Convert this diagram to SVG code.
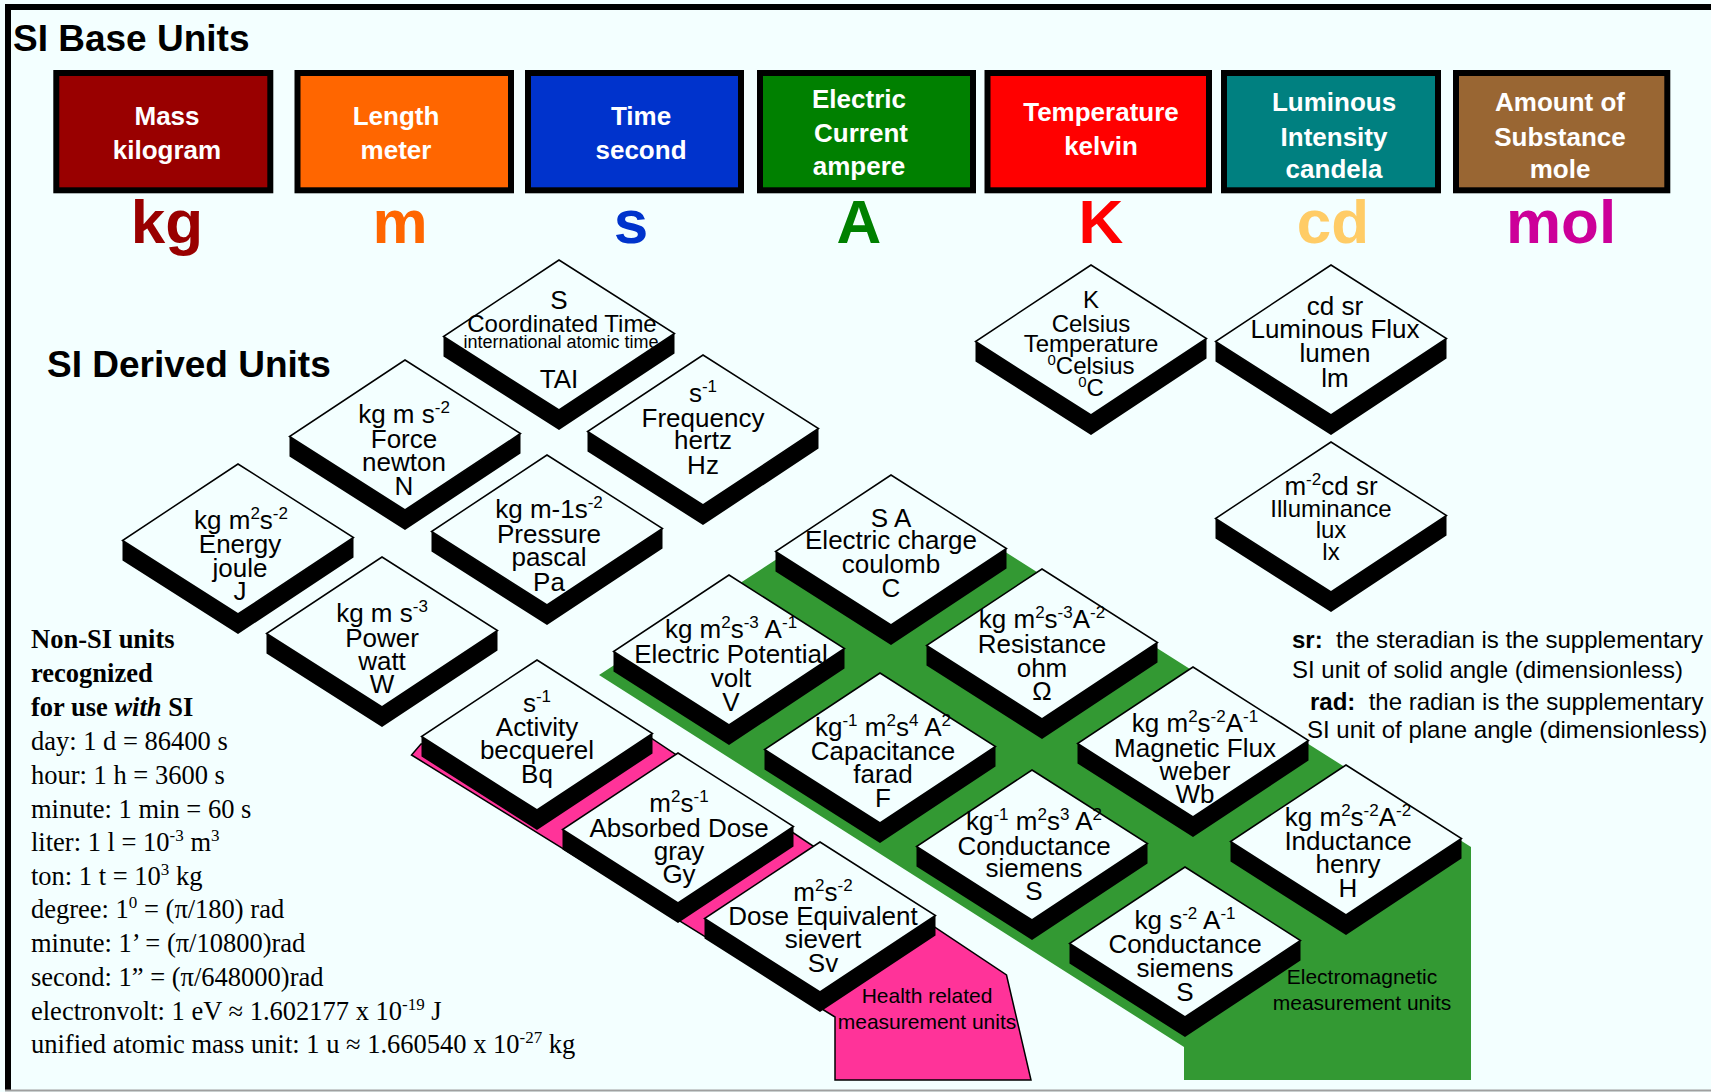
<svg xmlns="http://www.w3.org/2000/svg" xmlns:xlink="http://www.w3.org/1999/xlink" width="1711" height="1092" viewBox="0 0 1711 1092">
<style>
.ttl{font-family:"Liberation Sans",Arial,sans-serif;font-weight:bold;font-size:37px;fill:#000}
.bx{font-family:"Liberation Sans",Arial,sans-serif;font-weight:bold;font-size:26px;fill:#fff;text-anchor:middle}
.sym{font-family:"Liberation Sans",Arial,sans-serif;font-weight:bold;font-size:62px;text-anchor:middle}
.d{font-family:"Liberation Sans",Arial,sans-serif;font-size:26px;fill:#000;text-anchor:middle}
.d24{font-size:24px}
.d18{font-size:18px}
.sp{font-size:17px}
.sp14{font-size:15px}
.ns{font-family:"Liberation Serif","Times New Roman",serif;font-size:26.5px;fill:#000}
.nsb{font-weight:bold}
.nt{font-family:"Liberation Sans",Arial,sans-serif;font-size:24px;fill:#000}
.rg{font-family:"Liberation Sans",Arial,sans-serif;font-size:21px;fill:#000;text-anchor:middle}
.box{stroke:#000;stroke-width:6}
</style>
<defs>
<g id="dia">
<polygon points="-115.5,1.5 0,75 115.5,-1.5 115.5,18.5 0,95 -115.5,21.5" fill="#000"/>
<polygon points="0,-75 115.5,-1.5 0,75 -115.5,1.5" fill="#F3FFFF" stroke="#000" stroke-width="1.5"/>
</g>
</defs>
<rect x="0" y="0" width="1711" height="1092" fill="#F3FFFF"/>
<line x1="5" y1="7" x2="1711" y2="7" stroke="#000" stroke-width="6"/>
<line x1="8" y1="4" x2="8" y2="1090" stroke="#000" stroke-width="6"/>
<line x1="5" y1="1090.5" x2="1711" y2="1090.5" stroke="#A0A0A0" stroke-width="2"/>

<text class="ttl" x="13" y="51">SI Base Units</text>
<text class="ttl" x="47" y="377">SI Derived Units</text>

<g id="base-mass"><rect class="box" x="56.3" y="73" width="214" height="117.3" fill="#990000"/><text class="bx" x="167" y="125">Mass</text><text class="bx" x="167" y="159">kilogram</text><text class="sym" x="167" y="243" fill="#990000">kg</text></g>
<g id="base-length"><rect class="box" x="297.5" y="73" width="213.5" height="117.3" fill="#FF6600"/><text class="bx" x="396" y="125">Length</text><text class="bx" x="396" y="158.5">meter</text><text class="sym" x="400" y="243" fill="#FF6600">m</text></g>
<g id="base-time"><rect class="box" x="528" y="73" width="213" height="117.3" fill="#0033CC"/><text class="bx" x="641" y="124.5">Time</text><text class="bx" x="641" y="158.5">second</text><text class="sym" x="631" y="243" fill="#0033CC">s</text></g>
<g id="base-current"><rect class="box" x="760" y="73" width="213" height="117.3" fill="#008000"/><text class="bx" x="859" y="107.5">Electric</text><text class="bx" x="861" y="141.5">Current</text><text class="bx" x="859" y="175">ampere</text><text class="sym" x="859" y="243" fill="#008000">A</text></g>
<g id="base-temp"><rect class="box" x="987.5" y="73" width="221.5" height="117.3" fill="#FF0000"/><text class="bx" x="1101" y="120.5">Temperature</text><text class="bx" x="1101" y="154.5">kelvin</text><text class="sym" x="1101" y="243" fill="#FF0000">K</text></g>
<g id="base-lum"><rect class="box" x="1224" y="73" width="214" height="117.3" fill="#008080"/><text class="bx" x="1334" y="111">Luminous</text><text class="bx" x="1334" y="145.5">Intensity</text><text class="bx" x="1334" y="178">candela</text><text class="sym" x="1333" y="243" fill="#FFCC66">cd</text></g>
<g id="base-mole"><rect class="box" x="1456" y="73" width="211.3" height="117.3" fill="#996633"/><text class="bx" x="1560" y="111">Amount of</text><text class="bx" x="1560" y="145.5">Substance</text><text class="bx" x="1560" y="178">mole</text><text class="sym" x="1561" y="243" fill="#CC0099">mol</text></g>

<g id="regions">
<polygon id="em-region" points="895,482 1471,847 1471,1080 1184,1080 1184,1047 599,675" fill="#339933"/>
<polygon id="health-region" points="421,744 411.5,755 835,1017 835,1080 1031,1080 1006.5,975 651,738" fill="#FF3399" stroke="#000" stroke-width="1.5"/>
<text class="rg" x="1362" y="984">Electromagnetic</text>
<text class="rg" x="1362" y="1010">measurement units</text>
</g>

<g id="tai"><use xlink:href="#dia" x="559" y="335"/>
<text class="d" x="559" y="309">S</text>
<text class="d d24" x="562" y="332">Coordinated Time</text>
<text class="d d18" x="561" y="348">international atomic time</text>
<text class="d" x="559" y="388">TAI</text></g>

<g id="force"><use xlink:href="#dia" x="405" y="435"/>
<text class="d" x="404" y="423">kg m s<tspan class="sp" dy="-10">-2</tspan></text>
<text class="d" x="404" y="448">Force</text>
<text class="d" x="404" y="471">newton</text>
<text class="d" x="404" y="495">N</text></g>

<g id="frequency"><use xlink:href="#dia" x="703" y="430"/>
<text class="d" x="703" y="402">s<tspan class="sp" dy="-10">-1</tspan></text>
<text class="d" x="703" y="427">Frequency</text>
<text class="d" x="703" y="449">hertz</text>
<text class="d" x="703" y="474">Hz</text></g>

<g id="energy"><use xlink:href="#dia" x="238" y="539"/>
<text class="d" x="241" y="529">kg m<tspan class="sp" dy="-10">2</tspan><tspan dy="10">s</tspan><tspan class="sp" dy="-10">-2</tspan></text>
<text class="d" x="240" y="553">Energy</text>
<text class="d" x="240" y="577">joule</text>
<text class="d" x="240" y="600">J</text></g>

<g id="pressure"><use xlink:href="#dia" x="547" y="530"/>
<text class="d" x="549" y="518">kg m-1s<tspan class="sp" dy="-10">-2</tspan></text>
<text class="d" x="549" y="543">Pressure</text>
<text class="d" x="549" y="566">pascal</text>
<text class="d" x="549" y="591">Pa</text></g>

<g id="power"><use xlink:href="#dia" x="382" y="632"/>
<text class="d" x="382" y="622">kg m s<tspan class="sp" dy="-10">-3</tspan></text>
<text class="d" x="382" y="647">Power</text>
<text class="d" x="382" y="670">watt</text>
<text class="d" x="382" y="693">W</text></g>

<g id="charge"><use xlink:href="#dia" x="891" y="550"/>
<text class="d" x="891" y="527">S A</text>
<text class="d" x="891" y="549">Electric charge</text>
<text class="d" x="891" y="573">coulomb</text>
<text class="d" x="891" y="597">C</text></g>

<g id="potential"><use xlink:href="#dia" x="729" y="650"/>
<text class="d" x="731" y="638">kg m<tspan class="sp" dy="-10">2</tspan><tspan dy="10">s</tspan><tspan class="sp" dy="-10">-3</tspan><tspan dy="10"> A</tspan><tspan class="sp" dy="-10">-1</tspan></text>
<text class="d" x="731" y="663">Electric Potential</text>
<text class="d" x="731" y="687">volt</text>
<text class="d" x="731" y="711">V</text></g>

<g id="resistance"><use xlink:href="#dia" x="1042" y="644"/>
<text class="d" x="1042" y="628">kg m<tspan class="sp" dy="-10">2</tspan><tspan dy="10">s</tspan><tspan class="sp" dy="-10">-3</tspan><tspan dy="10">A</tspan><tspan class="sp" dy="-10">-2</tspan></text>
<text class="d" x="1042" y="653">Resistance</text>
<text class="d" x="1042" y="677">ohm</text>
<text class="d" x="1042" y="700">Ω</text></g>

<g id="capacitance"><use xlink:href="#dia" x="880" y="748"/>
<text class="d" x="883" y="736">kg<tspan class="sp" dy="-10">-1</tspan><tspan dy="10"> m</tspan><tspan class="sp" dy="-10">2</tspan><tspan dy="10">s</tspan><tspan class="sp" dy="-10">4</tspan><tspan dy="10"> A</tspan><tspan class="sp" dy="-10">2</tspan></text>
<text class="d" x="883" y="760">Capacitance</text>
<text class="d" x="883" y="783">farad</text>
<text class="d" x="883" y="807">F</text></g>

<g id="conductance1"><use xlink:href="#dia" x="1032" y="845"/>
<text class="d" x="1034" y="830">kg<tspan class="sp" dy="-10">-1</tspan><tspan dy="10"> m</tspan><tspan class="sp" dy="-10">2</tspan><tspan dy="10">s</tspan><tspan class="sp" dy="-10">3</tspan><tspan dy="10"> A</tspan><tspan class="sp" dy="-10">2</tspan></text>
<text class="d" x="1034" y="855">Conductance</text>
<text class="d" x="1034" y="877">siemens</text>
<text class="d" x="1034" y="900">S</text></g>

<g id="magflux"><use xlink:href="#dia" x="1193" y="742"/>
<text class="d" x="1195" y="732">kg m<tspan class="sp" dy="-10">2</tspan><tspan dy="10">s</tspan><tspan class="sp" dy="-10">-2</tspan><tspan dy="10">A</tspan><tspan class="sp" dy="-10">-1</tspan></text>
<text class="d" x="1195" y="757">Magnetic Flux</text>
<text class="d" x="1195" y="780">weber</text>
<text class="d" x="1195" y="803">Wb</text></g>

<g id="inductance"><use xlink:href="#dia" x="1346" y="840"/>
<text class="d" x="1348" y="826">kg m<tspan class="sp" dy="-10">2</tspan><tspan dy="10">s</tspan><tspan class="sp" dy="-10">-2</tspan><tspan dy="10">A</tspan><tspan class="sp" dy="-10">-2</tspan></text>
<text class="d" x="1348" y="850">Inductance</text>
<text class="d" x="1348" y="873">henry</text>
<text class="d" x="1348" y="897">H</text></g>

<g id="conductance2"><use xlink:href="#dia" x="1185" y="942"/>
<text class="d" x="1185" y="929">kg s<tspan class="sp" dy="-10">-2</tspan><tspan dy="10"> A</tspan><tspan class="sp" dy="-10">-1</tspan></text>
<text class="d" x="1185" y="953">Conductance</text>
<text class="d" x="1185" y="977">siemens</text>
<text class="d" x="1185" y="1001">S</text></g>

<g id="activity"><use xlink:href="#dia" x="537" y="735"/>
<text class="d" x="537" y="712">s<tspan class="sp" dy="-10">-1</tspan></text>
<text class="d" x="537" y="736">Activity</text>
<text class="d" x="537" y="759">becquerel</text>
<text class="d" x="537" y="783">Bq</text></g>

<g id="absorbed"><use xlink:href="#dia" x="678" y="828"/>
<text class="d" x="679" y="812">m<tspan class="sp" dy="-10">2</tspan><tspan dy="10">s</tspan><tspan class="sp" dy="-10">-1</tspan></text>
<text class="d" x="679" y="837">Absorbed Dose</text>
<text class="d" x="679" y="860">gray</text>
<text class="d" x="679" y="883">Gy</text></g>

<g id="doseeq"><use xlink:href="#dia" x="820" y="917"/>
<text class="d" x="823" y="901">m<tspan class="sp" dy="-10">2</tspan><tspan dy="10">s</tspan><tspan class="sp" dy="-10">-2</tspan></text>
<text class="d" x="823" y="925">Dose Equivalent</text>
<text class="d" x="823" y="948">sievert</text>
<text class="d" x="823" y="972">Sv</text></g>

<g id="health-label">
<text class="rg" x="927" y="1003">Health related</text>
<text class="rg" x="927" y="1029">measurement units</text>
</g>

<g id="celsius"><use xlink:href="#dia" x="1091" y="340"/>
<text class="d d24" x="1091" y="308">K</text>
<text class="d d24" x="1091" y="332">Celsius</text>
<text class="d d24" x="1091" y="352">Temperature</text>
<text class="d d24" x="1091" y="374"><tspan class="sp14" dy="-9">0</tspan><tspan dy="9">Celsius</tspan></text>
<text class="d d24" x="1091" y="396"><tspan class="sp14" dy="-9">0</tspan><tspan dy="9">C</tspan></text></g>

<g id="lumflux"><use xlink:href="#dia" x="1331" y="340"/>
<text class="d" x="1335" y="315">cd sr</text>
<text class="d" x="1335" y="338">Luminous Flux</text>
<text class="d" x="1335" y="362">lumen</text>
<text class="d" x="1335" y="387">lm</text></g>

<g id="illuminance"><use xlink:href="#dia" x="1331" y="517"/>
<text class="d" x="1331" y="495">m<tspan class="sp" dy="-10">-2</tspan><tspan dy="10">cd sr</tspan></text>
<text class="d d24" x="1331" y="517">Illuminance</text>
<text class="d d24" x="1331" y="538">lux</text>
<text class="d d24" x="1331" y="560">lx</text></g>

<g id="notes">
<text class="nt" x="1292" y="648"><tspan font-weight="bold">sr:</tspan>&#160; the steradian is the supplementary</text>
<text class="nt" x="1292" y="678">SI unit of solid angle (dimensionless)</text>
<text class="nt" x="1310" y="710"><tspan font-weight="bold">rad:</tspan>&#160; the radian is the supplementary</text>
<text class="nt" x="1307" y="738">SI unit of plane angle (dimensionless)</text>
</g>

<g id="non-si">
<text class="ns nsb" x="31" y="648">Non-SI units</text>
<text class="ns nsb" x="31" y="682">recognized</text>
<text class="ns nsb" x="31" y="716">for use <tspan font-style="italic">with</tspan> SI</text>
<text class="ns" x="31" y="750">day: 1 d = 86400 s</text>
<text class="ns" x="31" y="784">hour: 1 h = 3600 s</text>
<text class="ns" x="31" y="818">minute: 1 min = 60 s</text>
<text class="ns" x="31" y="851">liter: 1 l = 10<tspan class="sp" dy="-10">-3</tspan><tspan dy="10"> m</tspan><tspan class="sp" dy="-10">3</tspan></text>
<text class="ns" x="31" y="885">ton: 1 t = 10<tspan class="sp" dy="-10">3</tspan><tspan dy="10"> kg</tspan></text>
<text class="ns" x="31" y="918">degree: 1<tspan class="sp" dy="-10">0</tspan><tspan dy="10"> = (π/180) rad</tspan></text>
<text class="ns" x="31" y="952">minute: 1’ = (π/10800)rad</text>
<text class="ns" x="31" y="986">second: 1” = (π/648000)rad</text>
<text class="ns" x="31" y="1020">electronvolt: 1 eV ≈ 1.602177 x 10<tspan class="sp" dy="-10">-19</tspan><tspan dy="10"> J</tspan></text>
<text class="ns" x="31" y="1053">unified atomic mass unit: 1 u ≈ 1.660540 x 10<tspan class="sp" dy="-10">-27</tspan><tspan dy="10"> kg</tspan></text>
</g>
</svg>
